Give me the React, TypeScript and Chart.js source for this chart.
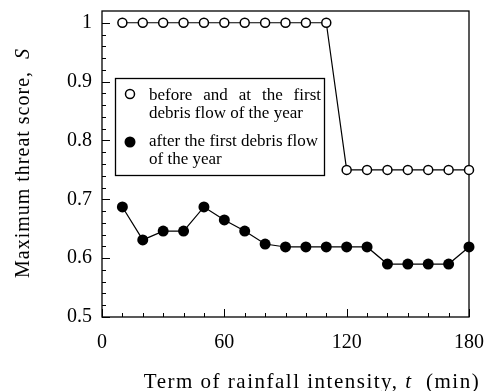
import React, { useEffect, useRef } from "react";
import { Chart, registerables } from "chart.js";

Chart.register(...registerables);

const terms = [10, 20, 30, 40, 50, 60, 70, 80, 90, 100, 110, 120, 130, 140, 150, 160, 170, 180];
const beforeFirst = [1, 1, 1, 1, 1, 1, 1, 1, 1, 1, 1, 0.75, 0.75, 0.75, 0.75, 0.75, 0.75, 0.75];
const afterFirst = [0.687, 0.631, 0.646, 0.646, 0.687, 0.665, 0.646, 0.624, 0.619, 0.619, 0.619, 0.619, 0.619, 0.59, 0.59, 0.59, 0.59, 0.619];
const xTicks = [0, 60, 120, 180];
const yTicks = [0.5, 0.6, 0.7, 0.8, 0.9, 1];
const xMinorStep = 10;
const yMinorStep = 0.02;
const legendLabels = [
  ["before and at the first", "debris flow of the year"],
  ["after the first debris flow", "of the year"],
];
const xTitle = ["Term of rainfall intensity, ", "t", "  (min)"];
const yTitle = ["Maximum threat score,  ", "S"];

const SERIF = "'Liberation Serif', 'DejaVu Serif', serif";

const decorPlugin = {
  id: "decor",
  beforeDatasetsDraw(chart: any) {
    const { ctx, chartArea: a, scales } = chart;
    const xs = scales.x;
    const ys = scales.y;
    ctx.save();
    ctx.strokeStyle = "#000";
    ctx.lineWidth = 1.3;
    ctx.strokeRect(a.left, a.top, a.right - a.left, a.bottom - a.top);
    ctx.lineWidth = 1;
    for (let v = xs.min; v <= xs.max + 1e-9; v += xMinorStep) {
      const px = Math.round(xs.getPixelForValue(v)) + 0.5;
      const major = xTicks.includes(Math.round(v));
      ctx.beginPath();
      ctx.moveTo(px, a.bottom);
      ctx.lineTo(px, a.bottom - (major ? 8 : 4));
      ctx.stroke();
    }
    for (let i = 0; i <= 25; i++) {
      const v = 0.5 + i * yMinorStep;
      const py = Math.round(ys.getPixelForValue(v)) + 0.5;
      const major = i % 5 === 0;
      ctx.beginPath();
      ctx.moveTo(a.left, py);
      ctx.lineTo(a.left + (major ? 8 : 4), py);
      ctx.stroke();
    }
    ctx.restore();
  },
  afterDatasetsDraw(chart: any) {
    const { ctx } = chart;
    ctx.save();
    const bx = 115, by = 78, bw = 209, bh = 97;
    ctx.fillStyle = "#fff";
    ctx.fillRect(bx, by, bw, bh);
    ctx.strokeStyle = "#000";
    ctx.lineWidth = 1.3;
    ctx.strokeRect(bx + 0.5, by + 0.5, bw, bh);
    ctx.beginPath();
    ctx.arc(130, 94, 4.5, 0, Math.PI * 2);
    ctx.fillStyle = "#fff";
    ctx.fill();
    ctx.lineWidth = 1.5;
    ctx.stroke();
    ctx.beginPath();
    ctx.arc(130, 142, 5.5, 0, Math.PI * 2);
    ctx.fillStyle = "#000";
    ctx.fill();
    ctx.fillStyle = "#000";
    ctx.font = "17px " + SERIF;
    (ctx as any).letterSpacing = "0px";
    ctx.textBaseline = "alphabetic";
    ctx.textAlign = "left";
    const tx = 149;
    const tRight = 321;
    const words = legendLabels[0][0].split(" ");
    const wsum = words.reduce((s, w) => s + ctx.measureText(w).width, 0);
    const gap = (tRight - tx - wsum) / (words.length - 1);
    let cx = tx;
    for (const w of words) {
      ctx.fillText(w, cx, 100);
      cx += ctx.measureText(w).width + gap;
    }
    ctx.fillText(legendLabels[0][1], tx, 118);
    ctx.fillText(legendLabels[1][0], tx, 146);
    ctx.fillText(legendLabels[1][1], tx, 164);

    // x title
    (ctx as any).letterSpacing = "1.5px";
    const fonts = ["21px " + SERIF, "italic 21px " + SERIF, "21px " + SERIF];
    let total = 0;
    const widths = xTitle.map((p, i) => {
      ctx.font = fonts[i];
      const w = ctx.measureText(p).width;
      total += w;
      return w;
    });
    let sx = 312 - total / 2;
    xTitle.forEach((p, i) => {
      ctx.font = fonts[i];
      ctx.fillText(p, sx, 388);
      sx += widths[i];
    });

    // y title rotated
    (ctx as any).letterSpacing = "1px";
    ctx.translate(29, 163);
    ctx.rotate(-Math.PI / 2);
    const yf = ["20px " + SERIF, "italic 20px " + SERIF];
    let ytot = 0;
    const yw = yTitle.map((p, i) => {
      ctx.font = yf[i];
      const w = ctx.measureText(p).width;
      ytot += w;
      return w;
    });
    let sy = -ytot / 2;
    yTitle.forEach((p, i) => {
      ctx.font = yf[i];
      ctx.fillText(p, sy, 0);
      sy += yw[i];
    });
    (ctx as any).letterSpacing = "0px";
    ctx.restore();
  },
};

export default function App() {
  const ref = useRef<HTMLCanvasElement>(null);
  useEffect(() => {
    if (!ref.current) return;
    const chart = new Chart(ref.current, {
      type: "line",
      data: {
        datasets: [
          {
            label: "before and at the first debris flow of the year",
            data: terms.map((t, i) => ({ x: t, y: beforeFirst[i] })),
            borderColor: "#000",
            borderWidth: 1.2,
            pointRadius: 4.5,
            pointBorderWidth: 1.5,
            pointBackgroundColor: "#fff",
            pointBorderColor: "#000",
            tension: 0,
            clip: false,
          },
          {
            label: "after the first debris flow of the year",
            data: terms.map((t, i) => ({ x: t, y: afterFirst[i] })),
            borderColor: "#000",
            borderWidth: 1.2,
            pointRadius: 5.5,
            pointBorderWidth: 0,
            pointBackgroundColor: "#000",
            pointBorderColor: "#000",
            tension: 0,
            clip: false,
          },
        ],
      },
      options: {
        animation: false,
        responsive: false,
        devicePixelRatio: 1,
        layout: { padding: { left: 0, right: 18, top: 11, bottom: 0 } },
        plugins: { legend: { display: false }, tooltip: { enabled: false } },
        scales: {
          x: {
            type: "linear",
            min: 0,
            max: 180,
            afterBuildTicks: (s: any) => {
              s.ticks = xTicks.map((v) => ({ value: v }));
            },
            afterFit: (s: any) => {
              s.height = 74;
              s.paddingLeft = 0;
              s.paddingRight = 0;
            },
            grid: { display: false, drawTicks: false },
            border: { display: false },
            ticks: {
              padding: 14,
              color: "#000",
              font: { family: SERIF, size: 20 },
              callback: (v: any) => String(v),
              maxRotation: 0,
            },
          },
          y: {
            type: "linear",
            min: 0.5,
            max: 1.02,
            afterBuildTicks: (s: any) => {
              s.ticks = yTicks.map((v) => ({ value: v }));
            },
            afterFit: (s: any) => {
              s.width = 102;
              s.paddingTop = 0;
              s.paddingBottom = 0;
            },
            grid: { display: false, drawTicks: false },
            border: { display: false },
            ticks: {
              padding: 10,
              color: "#000",
              font: { family: SERIF, size: 20 },
              callback: (v: any) => String(v),
            },
          },
        },
      },
      plugins: [decorPlugin],
    });
    return () => chart.destroy();
  }, []);
  return (
    <div style={{ position: "fixed", left: 0, top: 0, width: 487, height: 391, background: "#fff" }}>
      <canvas ref={ref} width={487} height={391} />
    </div>
  );
}
